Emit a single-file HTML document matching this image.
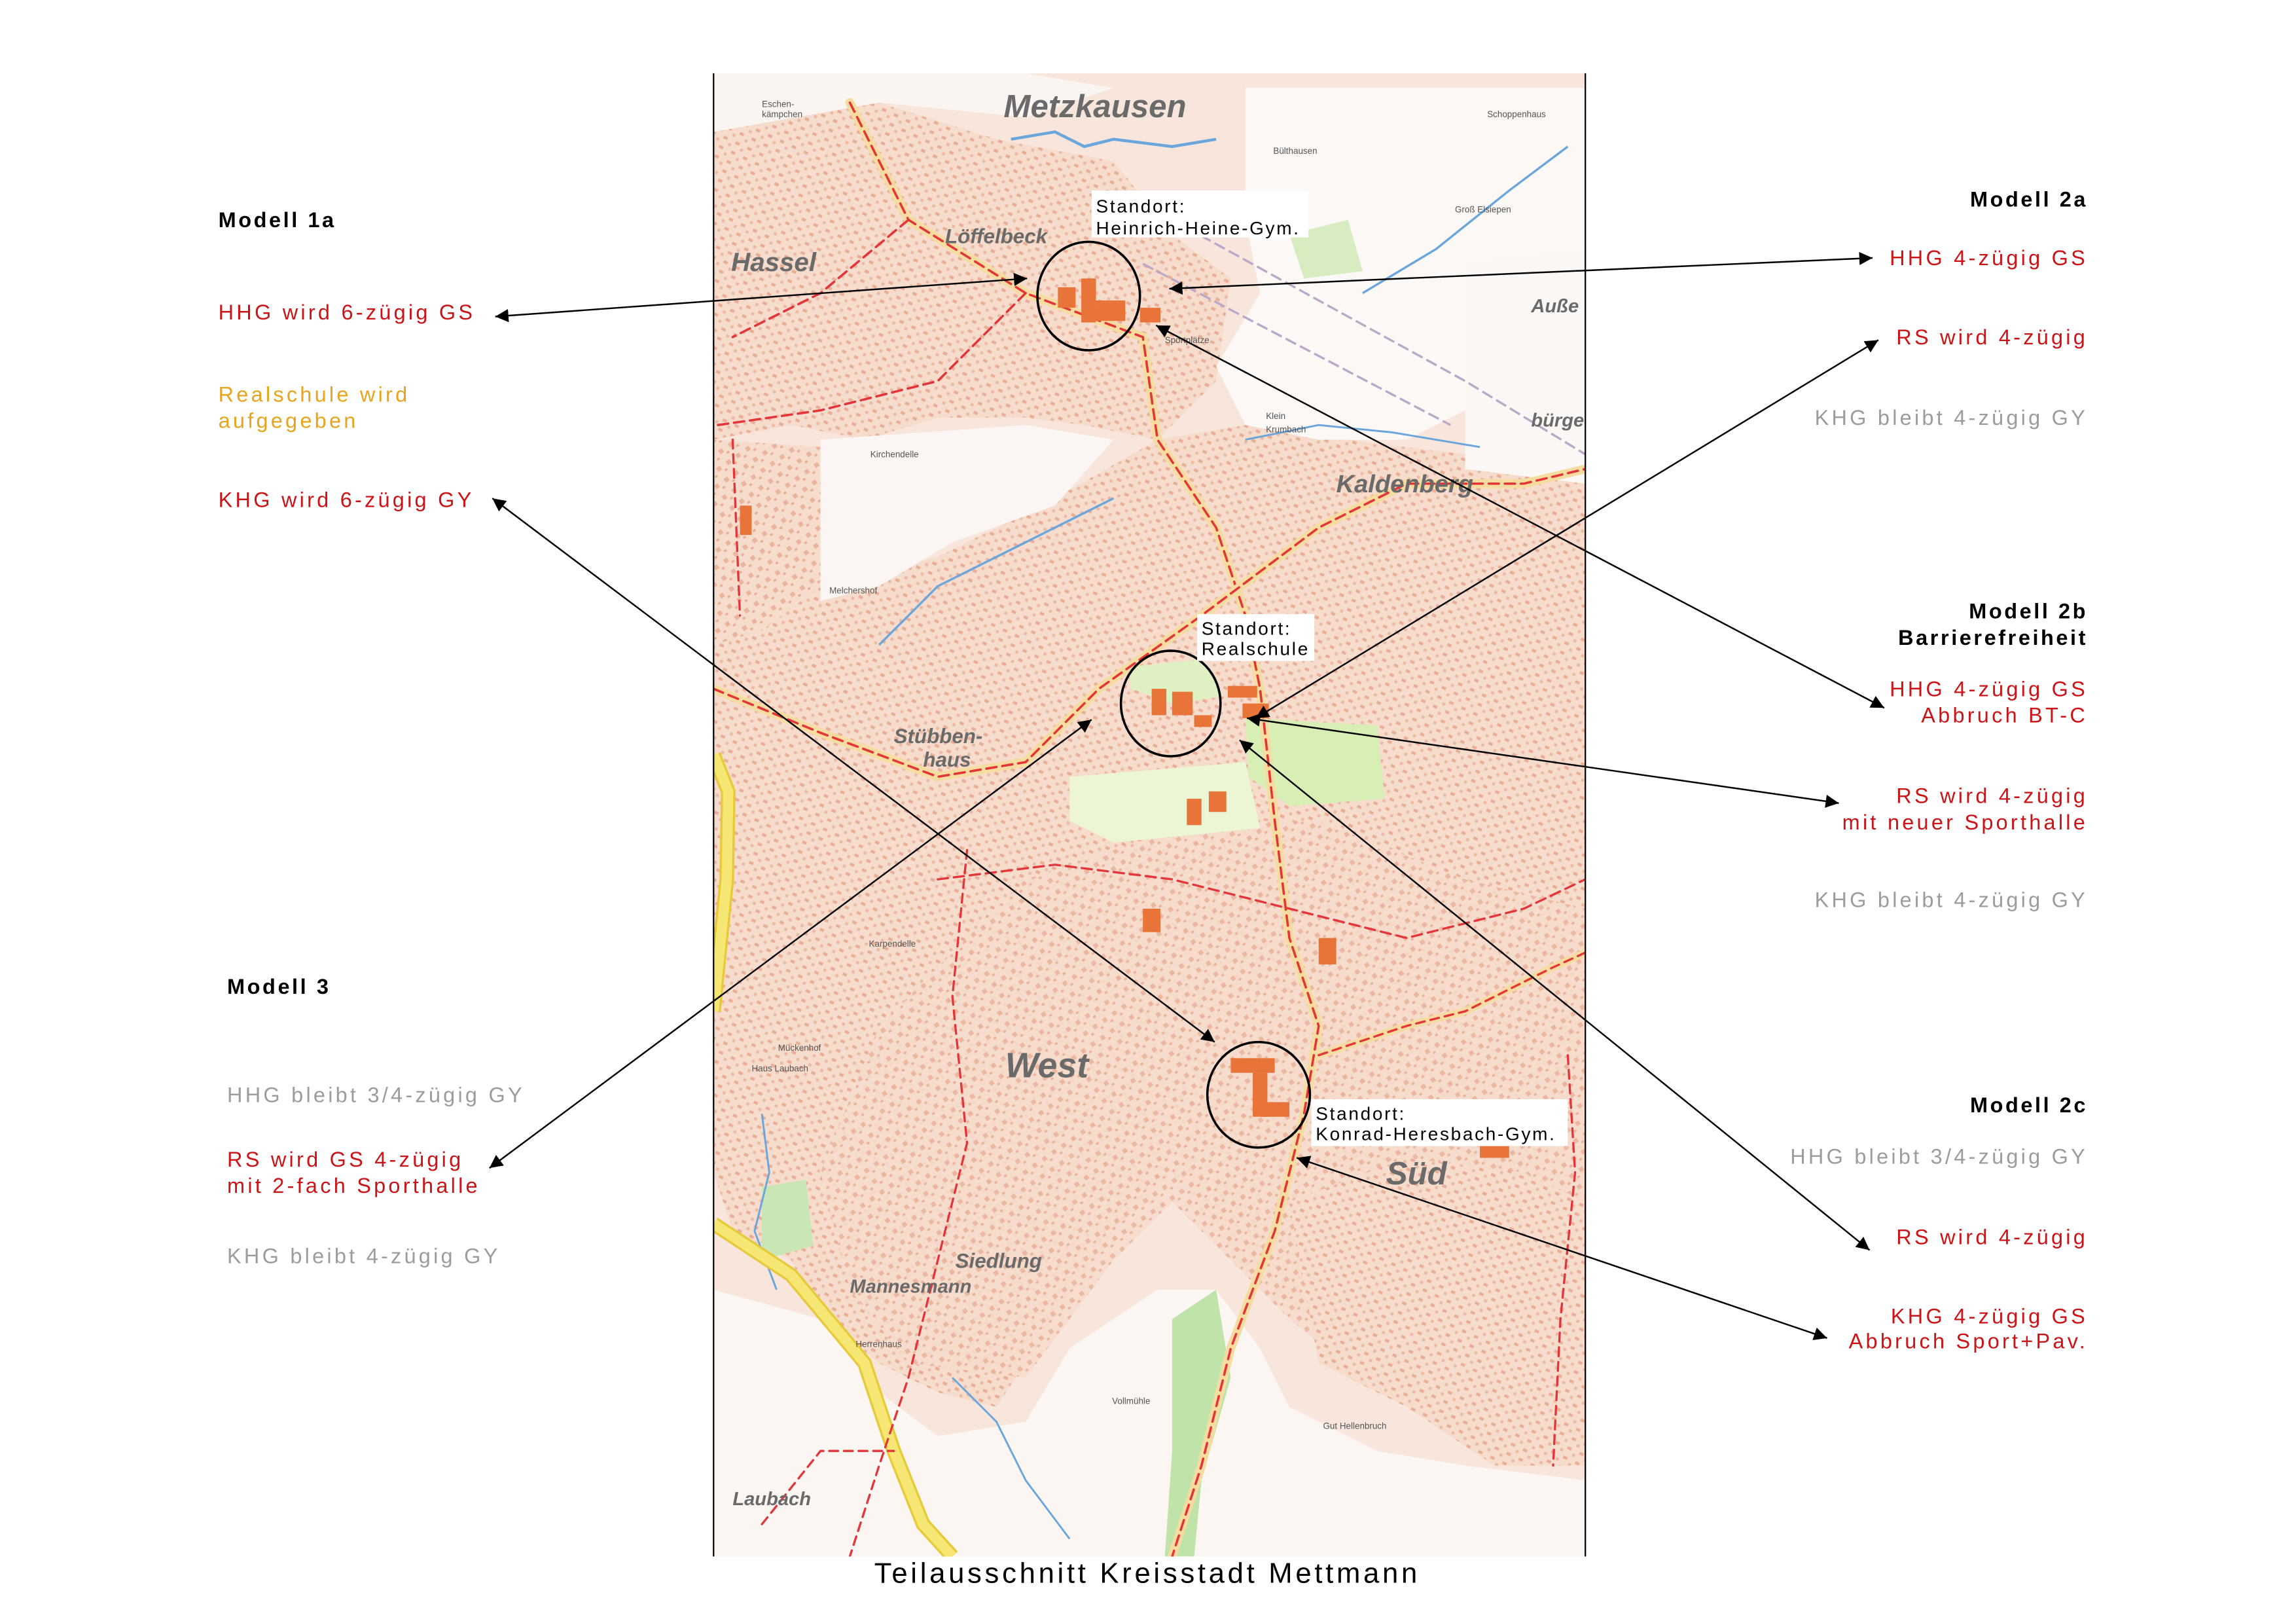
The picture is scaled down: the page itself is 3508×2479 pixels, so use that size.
<!DOCTYPE html>
<html><head><meta charset="utf-8">
<style>
html,body{margin:0;padding:0;background:#fff;}
svg{display:block;}
text{font-family:"Liberation Sans",sans-serif;}
.r{fill:#cc1418;font-size:14.5px;letter-spacing:1.9px;}
.g{fill:#9c9c9c;font-size:14.5px;letter-spacing:1.9px;}
.o{fill:#e8a41c;font-size:14.5px;letter-spacing:1.9px;}
.b{fill:#000;font-size:14.5px;font-weight:bold;letter-spacing:1.6px;}
.s{fill:#000;font-size:12.5px;letter-spacing:1.2px;}
.m{fill:#6a6a6a;font-style:italic;font-weight:bold;}
.t{fill:#555;font-size:6px;}
</style></head><body>
<svg width="3508" height="2479" viewBox="0 0 1567 1107.4" xmlns="http://www.w3.org/2000/svg">
<defs>
<pattern id="bld" width="9" height="7" patternUnits="userSpaceOnUse" patternTransform="rotate(25)">
<rect width="9" height="7" fill="#f6dccd"/>
<rect x="1" y="1" width="3" height="2" fill="#eaae96"/>
<rect x="6" y="4" width="2" height="2" fill="#ecb9a3"/>
</pattern>
<pattern id="bld2" width="8" height="9" patternUnits="userSpaceOnUse" patternTransform="rotate(-35)">
<rect width="8" height="9" fill="#f6dccd"/>
<rect x="1" y="2" width="3" height="3" fill="#ebb49c"/>
<rect x="5" y="6" width="2" height="1.5" fill="#eaae94"/>
</pattern>
<marker id="ah" viewBox="0 0 10 10" refX="10" refY="5" markerWidth="9" markerHeight="9" markerUnits="userSpaceOnUse" orient="auto-start-reverse">
<path d="M0,0 L10,5 L0,10 z" fill="#000"/>
</marker>
<clipPath id="mc"><rect x="487" y="50" width="595" height="1012"/></clipPath>
</defs>

<g clip-path="url(#mc)">
<rect x="487" y="50" width="595" height="1012" fill="#f8e6dc"/>
<path d="M487,90 L600,70 L680,95 L760,110 L800,160 L840,190 L830,260 L790,300 L740,290 L700,285 L640,285 L590,300 L540,290 L487,300 Z" fill="url(#bld)"/>
<path d="M487,300 L560,305 L560,420 L520,440 L487,440 Z" fill="url(#bld2)"/>
<path d="M560,400 L640,380 L720,340 L790,300 L850,290 L920,300 L1000,310 L1082,330 L1082,900 L1040,960 L990,980 L960,930 L900,900 L860,880 L830,840 L800,800 L760,840 L720,900 L680,960 L640,950 L600,930 L560,900 L540,860 L500,840 L487,800 L487,440 L520,430 Z" fill="url(#bld)"/>
<path d="M700,600 L820,560 L900,560 L1000,600 L1082,620 L1082,900 L1000,980 L930,940 L880,900 L840,860 L800,820 L760,860 L700,940 L620,930 L580,880 L560,800 L600,700 Z" fill="url(#bld2)" opacity="0.9"/>
<path d="M880,820 L960,790 L1040,800 L1082,820 L1082,1000 L1020,1000 L960,960 L900,930 Z" fill="url(#bld)"/>
<path d="M560,300 L700,290 L760,300 L720,345 L650,370 L600,400 L560,410 Z" fill="#fbf6f3"/>
<path d="M850,60 L1082,60 L1082,180 L1040,230 L1000,280 L960,300 L900,300 L850,290 L830,250 L860,200 L850,150 Z" fill="#fcf8f5"/>
<path d="M1000,180 L1082,170 L1082,330 L1000,320 Z" fill="#fbf7f4"/>
<path d="M487,880 L560,900 L600,950 L640,980 L700,970 L730,920 L790,880 L830,880 L860,920 L880,960 L940,990 L1000,1000 L1082,1010 L1082,1062 L487,1062 Z" fill="#fbf6f2"/>
<path d="M487,50 L700,50 L760,60 L700,80 L600,70 L487,90 Z" fill="#fbf5f1"/>
<path d="M730,530 L850,520 L860,565 L760,575 L730,560 Z" fill="#ecf5d4"/>
<path d="M850,490 L940,495 L945,545 L880,550 L852,530 Z" fill="#d7eeb5"/>
<path d="M770,455 L820,450 L835,475 L800,480 L772,470 Z" fill="#dff0c2"/>
<path d="M800,900 L830,880 L840,940 L820,1010 L815,1062 L795,1062 L800,990 Z" fill="#bfe3a8"/>
<path d="M520,810 L550,805 L555,850 L520,860 Z" fill="#c9e6b4"/>
<path d="M880,160 L920,150 L930,185 L890,190 Z" fill="#d7ecc0"/>
<path d="M690,95 L720,90 L740,100 L760,95 L800,100 L830,95" stroke="#6aa6dc" stroke-width="2" fill="none"/>
<path d="M600,440 L640,400 L680,380 L720,360 L760,340" stroke="#6aa6dc" stroke-width="1.5" fill="none"/>
<path d="M930,200 L980,170 L1030,130 L1070,100" stroke="#6aa6dc" stroke-width="1.5" fill="none"/>
<path d="M850,300 L900,290 L950,295 L1010,305" stroke="#6aa6dc" stroke-width="1.3" fill="none"/>
<path d="M650,940 L680,970 L700,1010 L730,1050" stroke="#6aa6dc" stroke-width="1.3" fill="none"/>
<path d="M520,760 L525,800 L515,840 L530,880" stroke="#6aa6dc" stroke-width="1.3" fill="none"/>
<path d="M487,515 L497,540 L496,600 L490,660 L487,690" stroke="#e7c93a" stroke-width="10" fill="none"/>
<path d="M487,515 L497,540 L496,600 L490,660 L487,690" stroke="#f6e774" stroke-width="7" fill="none"/>
<path d="M487,835 L540,870 L590,930 L610,990 L630,1040 L650,1062" stroke="#e7c93a" stroke-width="10" fill="none"/>
<path d="M487,835 L540,870 L590,930 L610,990 L630,1040 L650,1062" stroke="#f6e774" stroke-width="7" fill="none"/>
<g fill="none" stroke-linecap="round">
<path d="M580,70 L620,150 L700,200 L780,230 L790,300 L830,360 L850,420 L860,470 L870,560 L880,640 L900,700 L890,760 L870,840 L840,920 L820,1000 L800,1062" stroke="#f7dca0" stroke-width="6"/>
<path d="M580,70 L620,150 L700,200 L780,230 L790,300 L830,360 L850,420 L860,470 L870,560 L880,640 L900,700 L890,760 L870,840 L840,920 L820,1000 L800,1062" stroke="#e2363a" stroke-width="1.6" stroke-dasharray="7,4"/>
<path d="M487,470 L560,500 L640,530 L700,520 L750,470 L820,420 L900,360 L960,330 L1040,330 L1082,320" stroke="#f7dca0" stroke-width="6"/>
<path d="M487,470 L560,500 L640,530 L700,520 L750,470 L820,420 L900,360 L960,330 L1040,330 L1082,320" stroke="#e2363a" stroke-width="1.6" stroke-dasharray="7,4"/>
<path d="M620,150 L560,200 L500,230 M700,200 L640,260 L560,280 L490,290" stroke="#e2363a" stroke-width="1.6" stroke-dasharray="7,4"/>
<path d="M640,600 L720,590 L800,600 L880,620 L960,640 L1040,620 L1082,600" stroke="#e2363a" stroke-width="1.5" stroke-dasharray="7,4"/>
<path d="M660,580 L650,680 L660,780 L640,860 L620,940 L600,1000 L580,1062" stroke="#e2363a" stroke-width="1.5" stroke-dasharray="6,4"/>
<path d="M900,720 L960,700 L1000,690 L1060,660 L1082,650" stroke="#f7dca0" stroke-width="5"/>
<path d="M900,720 L960,700 L1000,690 L1060,660 L1082,650" stroke="#e2363a" stroke-width="1.5" stroke-dasharray="6,4"/>
<path d="M1070,720 L1075,800 L1065,900 L1060,1000" stroke="#e2363a" stroke-width="1.5" stroke-dasharray="6,4"/>
<path d="M520,1040 L560,990 L610,990 M500,300 L505,420" stroke="#e2363a" stroke-width="1.5" stroke-dasharray="6,4"/>
</g>
<path d="M800,150 L1000,260 L1082,310 M780,180 L990,290" stroke="#b9a8c8" stroke-width="1.5" fill="none" stroke-dasharray="8,3"/>
<g fill="#e8743a">
<rect x="722" y="196" width="12" height="14"/><rect x="738" y="190" width="10" height="30"/><rect x="748" y="205" width="20" height="14"/><rect x="778" y="210" width="14" height="10"/>
<rect x="786" y="470" width="10" height="18"/><rect x="800" y="472" width="14" height="16"/><rect x="815" y="488" width="12" height="8"/>
<rect x="838" y="468" width="20" height="8"/><rect x="848" y="480" width="18" height="10"/>
<rect x="840" y="722" width="30" height="10"/><rect x="855" y="732" width="10" height="30"/><rect x="860" y="752" width="20" height="10"/>
<rect x="505" y="345" width="8" height="20"/><rect x="810" y="545" width="10" height="18"/><rect x="825" y="540" width="12" height="14"/>
<rect x="1010" y="780" width="20" height="10"/><rect x="900" y="640" width="12" height="18"/><rect x="780" y="620" width="12" height="16"/>
</g>
<text x="685" y="80" class="m" font-size="22">Metzkausen</text>
<text x="499" y="185" class="m" font-size="18">Hassel</text>
<text x="645" y="166" class="m" font-size="14">Löffelbeck</text>
<text x="912" y="336" class="m" font-size="17">Kaldenberg</text>
<text x="610" y="507" class="m" font-size="14">Stübben-</text>
<text x="630" y="523" class="m" font-size="14">haus</text>
<text x="686" y="735" class="m" font-size="24">West</text>
<text x="946" y="808" class="m" font-size="22">Süd</text>
<text x="652" y="865" class="m" font-size="14">Siedlung</text>
<text x="580" y="882" class="m" font-size="13">Mannesmann</text>
<text x="500" y="1027" class="m" font-size="13">Laubach</text>
<text x="1045" y="213" class="m" font-size="13">Auße</text>
<text x="1045" y="291" class="m" font-size="13">bürge</text>
<text x="594" y="312" class="t">Kirchendelle</text>
<text x="566" y="405" class="t">Melchershof</text>
<text x="593" y="646" class="t">Karpendelle</text>
<text x="531" y="717" class="t">Mückenhof</text>
<text x="513" y="731" class="t">Haus Laubach</text>
<text x="584" y="919" class="t">Herrenhaus</text>
<text x="759" y="958" class="t">Vollmühle</text>
<text x="903" y="975" class="t">Gut Hellenbruch</text>
<text x="1015" y="80" class="t">Schoppenhaus</text>
<text x="869" y="105" class="t">Bülthausen</text>
<text x="993" y="145" class="t">Groß Elsiepen</text>
<text x="795" y="234" class="t">Sportplätze</text>
<text x="864" y="286" class="t">Klein</text>
<text x="864" y="295" class="t">Krumbach</text>
<text x="520" y="73" class="t">Eschen-</text>
<text x="520" y="80" class="t">kämpchen</text>
<ellipse cx="743" cy="202" rx="35" ry="37" fill="none" stroke="#000" stroke-width="1.6"/>
<ellipse cx="799" cy="480" rx="34" ry="36" fill="none" stroke="#000" stroke-width="1.6"/>
<ellipse cx="859" cy="747" rx="35" ry="36" fill="none" stroke="#000" stroke-width="1.6"/>
<rect x="745" y="130" width="148" height="32" fill="#fff"/>
<text x="748" y="145" class="s">Standort:</text>
<text x="748" y="160" class="s">Heinrich-Heine-Gym.</text>
<rect x="817" y="419" width="80" height="32" fill="#fff"/>
<text x="820" y="433" class="s">Standort:</text>
<text x="820" y="447" class="s">Realschule</text>
<rect x="895" y="750" width="175" height="32" fill="#fff"/>
<text x="898" y="764" class="s">Standort:</text>
<text x="898" y="778" class="s">Konrad-Heresbach-Gym.</text>
</g>
<line x1="487" y1="50" x2="487" y2="1062" stroke="#000" stroke-width="1"/>
<line x1="1082" y1="50" x2="1082" y2="1062" stroke="#000" stroke-width="1"/>

<g stroke="#000" stroke-width="1.1" fill="none" marker-start="url(#ah)" marker-end="url(#ah)">
<line x1="338" y1="216" x2="701" y2="190"/>
<line x1="1278" y1="176" x2="798" y2="197"/>
<line x1="1282" y1="232" x2="857" y2="490"/>
<line x1="1286" y1="483" x2="789" y2="222"/>
<line x1="1255" y1="548" x2="851" y2="490"/>
<line x1="1276" y1="853" x2="846" y2="505"/>
<line x1="1247" y1="913" x2="885" y2="790"/>
<line x1="336" y1="340" x2="829" y2="711"/>
<line x1="334" y1="797" x2="745" y2="491"/>
</g>

<text x="149" y="155" class="b">Modell 1a</text>
<text x="149" y="218" class="r">HHG wird 6-zügig GS</text>
<text x="149" y="274" class="o">Realschule wird</text>
<text x="149" y="292" class="o">aufgegeben</text>
<text x="149" y="346" class="r">KHG wird 6-zügig GY</text>
<text x="155" y="678" class="b">Modell 3</text>
<text x="155" y="752" class="g">HHG bleibt 3/4-zügig GY</text>
<text x="155" y="796" class="r">RS wird GS 4-zügig</text>
<text x="155" y="814" class="r">mit 2-fach Sporthalle</text>
<text x="155" y="862" class="g">KHG bleibt 4-zügig GY</text>

<g text-anchor="end">
<text x="1425" y="141" class="b">Modell 2a</text>
<text x="1425" y="181" class="r">HHG 4-zügig GS</text>
<text x="1425" y="235" class="r">RS wird 4-zügig</text>
<text x="1425" y="290" class="g">KHG bleibt 4-zügig GY</text>
<text x="1425" y="422" class="b">Modell 2b</text>
<text x="1425" y="440" class="b">Barrierefreiheit</text>
<text x="1425" y="475" class="r">HHG 4-zügig GS</text>
<text x="1425" y="493" class="r">Abbruch BT-C</text>
<text x="1425" y="548" class="r">RS wird 4-zügig</text>
<text x="1425" y="566" class="r">mit neuer Sporthalle</text>
<text x="1425" y="619" class="g">KHG bleibt 4-zügig GY</text>
<text x="1425" y="759" class="b">Modell 2c</text>
<text x="1425" y="794" class="g">HHG bleibt 3/4-zügig GY</text>
<text x="1425" y="849" class="r">RS wird 4-zügig</text>
<text x="1425" y="903" class="r">KHG 4-zügig GS</text>
<text x="1425" y="920" class="r">Abbruch Sport+Pav.</text>
</g>

<text x="783" y="1080" text-anchor="middle" font-size="19.5" letter-spacing="2.1" fill="#000">Teilausschnitt Kreisstadt Mettmann</text>
</svg>
</body></html>
